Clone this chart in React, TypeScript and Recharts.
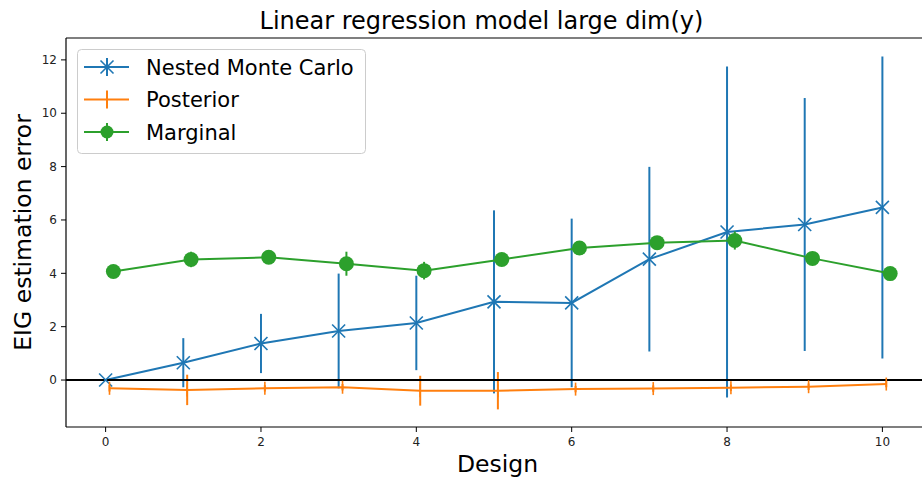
import React from "react";
import {
  ComposedChart,
  Line,
  XAxis,
  YAxis,
  ErrorBar,
  ReferenceLine,
  Label,
} from "recharts";

const designs = [0, 1, 2, 3, 4, 5, 6, 7, 8, 9, 10];
const xTicks = [0, 2, 4, 6, 8, 10];
const yTicks = [0, 2, 4, 6, 8, 10, 12];

// Nested Monte Carlo (blue)
const nmcMean = [0, 0.65, 1.37, 1.84, 2.14, 2.93, 2.89, 4.53, 5.55, 5.83, 6.47];
const nmcErr = [0, 0.92, 1.11, 2.15, 1.77, 3.43, 3.16, 3.46, 6.2, 4.74, 5.66];

// Posterior (orange), plotted slightly to the right
const postMean = [-0.31, -0.37, -0.31, -0.27, -0.4, -0.4, -0.34, -0.32, -0.29, -0.25, -0.15];
const postErr = [0.12, 0.57, 0.12, 0.12, 0.56, 0.7, 0.12, 0.12, 0.12, 0.12, 0.12];
const postShift = 0.05;

// Marginal (green)
const margMean = [4.07, 4.52, 4.6, 4.36, 4.1, 4.52, 4.95, 5.15, 5.23, 4.56, 3.99];
const margErr = [0.05, 0.29, 0.1, 0.45, 0.33, 0.1, 0.1, 0.15, 0.34, 0.1, 0.1];
const margShift = 0.1;

const BLUE = "#1f77b4";
const ORANGE = "#ff7f0e";
const GREEN = "#2ca02c";
const FONT = "'DejaVu Sans', sans-serif";

const X_DOMAIN: [number, number] = [-0.51, 10.6];
const Y_DOMAIN: [number, number] = [-1.76, 12.82];

const nmcData = designs.map((d, i) => ({ x: d, y: nmcMean[i], err: nmcErr[i] }));
const postData = designs.map((d, i) => ({ x: d + postShift, y: postMean[i], err: postErr[i] }));
const margData = designs.map((d, i) => ({ x: d + margShift, y: margMean[i], err: margErr[i] }));

const XMark = ({ cx, cy }: any) => (
  <g>
    <line x1={cx - 6.5} y1={cy - 6.5} x2={cx + 6.5} y2={cy + 6.5} stroke={BLUE} strokeWidth={1.6} />
    <line x1={cx - 6.5} y1={cy + 6.5} x2={cx + 6.5} y2={cy - 6.5} stroke={BLUE} strokeWidth={1.6} />
  </g>
);

const VMark = ({ cx, cy }: any) => (
  <line x1={cx} y1={cy - 6.5} x2={cx} y2={cy + 6.5} stroke={ORANGE} strokeWidth={1.6} />
);

const Dot = ({ cx, cy }: any) => <circle cx={cx} cy={cy} r={7.5} fill={GREEN} />;

const legendRows = [
  { name: "Nested Monte Carlo", color: BLUE, kind: "x" },
  { name: "Posterior", color: ORANGE, kind: "v" },
  { name: "Marginal", color: GREEN, kind: "o" },
];

function LegendBox() {
  return (
    <svg width={289} height={105} style={{ display: "block" }}>
      <rect x={0.5} y={0.5} width={288} height={104} rx={4} fill="#fff" fillOpacity={0.8} stroke="#cccccc" />
      {legendRows.map((r, i) => {
        const cy = 18 + i * 32.5;
        const cx = 30;
        return (
          <g key={r.name}>
            <line x1={7} y1={cy} x2={52} y2={cy} stroke={r.color} strokeWidth={2} />
            <line x1={cx} y1={cy - 9} x2={cx} y2={cy + 9} stroke={r.color} strokeWidth={2} />
            {r.kind === "x" && <XMark cx={cx} cy={cy} />}
            {r.kind === "o" && <circle cx={cx} cy={cy} r={6.5} fill={GREEN} />}
            <text x={69} y={cy + 7.5} fontSize={21} fontFamily={FONT} fill="#000">
              {r.name}
            </text>
          </g>
        );
      })}
    </svg>
  );
}

export default function App() {
  return (
    <div
      style={{
        position: "absolute",
        left: 0,
        top: 0,
        width: 922,
        height: 481,
        overflow: "hidden",
        background: "#fff",
        fontFamily: FONT,
      }}
    >
      <div
        style={{
          position: "absolute",
          left: 0,
          width: 963,
          top: 6,
          textAlign: "center",
          fontSize: 24,
          lineHeight: "30px",
          color: "#000",
        }}
      >
        Linear regression model large dim(y)
      </div>
      <ComposedChart
        width={941}
        height={481}
        margin={{ top: 38, right: 12, bottom: 0, left: 0 }}
        style={{ position: "absolute", left: 0, top: 0 }}
      >
        <XAxis
          dataKey="x"
          type="number"
          domain={X_DOMAIN}
          ticks={xTicks}
          allowDataOverflow
          height={54}
          tickSize={5}
          tickMargin={5}
          tick={{ fontSize: 12, fill: "#222", fontFamily: FONT }}
          axisLine={{ stroke: "#000", strokeWidth: 1.2 }}
          tickLine={{ stroke: "#000" }}
        >
          <Label
            content={() => (
              <text x={497.5} y={472} textAnchor="middle" fontSize={23.5} fontFamily={FONT} fill="#000">
                Design
              </text>
            )}
          />
        </XAxis>
        <YAxis
          type="number"
          domain={Y_DOMAIN}
          ticks={yTicks}
          allowDataOverflow
          width={66}
          tickSize={5}
          tickMargin={4}
          tick={{ fontSize: 12, fill: "#222", fontFamily: FONT }}
          axisLine={{ stroke: "#000", strokeWidth: 1.2 }}
          tickLine={{ stroke: "#000" }}
        >
          <Label
            content={() => (
              <text
                x={31}
                y={232.5}
                transform="rotate(-90 31 232.5)"
                textAnchor="middle"
                fontSize={23.5}
                fontFamily={FONT}
                fill="#000"
              >
                EIG estimation error
              </text>
            )}
          />
        </YAxis>
        <ReferenceLine y={Y_DOMAIN[1]} stroke="#000" strokeWidth={1.2} />
        <Line
          data={nmcData}
          dataKey="y"
          stroke={BLUE}
          strokeWidth={2}
          dot={(p: any) => <XMark key={`n${p.index}`} cx={p.cx} cy={p.cy} />}
          activeDot={false}
          isAnimationActive={false}
        >
          <ErrorBar dataKey="err" direction="y" width={0} stroke={BLUE} strokeWidth={2} isAnimationActive={false} />
        </Line>
        <Line
          data={postData}
          dataKey="y"
          stroke={ORANGE}
          strokeWidth={2}
          dot={(p: any) => <VMark key={`p${p.index}`} cx={p.cx} cy={p.cy} />}
          activeDot={false}
          isAnimationActive={false}
        >
          <ErrorBar dataKey="err" direction="y" width={0} stroke={ORANGE} strokeWidth={2} isAnimationActive={false} />
        </Line>
        <Line
          data={margData}
          dataKey="y"
          stroke={GREEN}
          strokeWidth={2}
          dot={(p: any) => <Dot key={`m${p.index}`} cx={p.cx} cy={p.cy} />}
          activeDot={false}
          isAnimationActive={false}
        >
          <ErrorBar dataKey="err" direction="y" width={0} stroke={GREEN} strokeWidth={2} isAnimationActive={false} />
        </Line>
        <ReferenceLine y={0} stroke="#000" strokeWidth={2} />
      </ComposedChart>
      <div style={{ position: "absolute", left: 77, top: 49 }}>
        <LegendBox />
      </div>
    </div>
  );
}
